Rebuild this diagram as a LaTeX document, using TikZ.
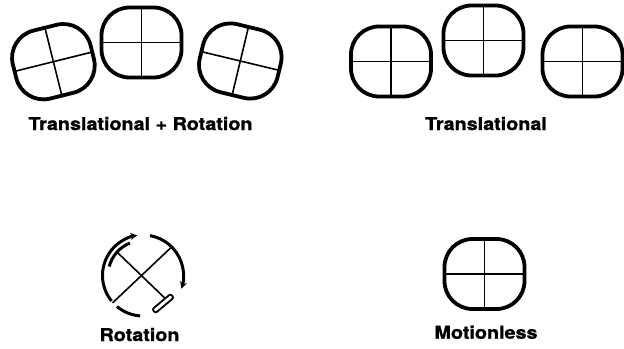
\documentclass[tikz,border=0pt]{standalone}
\usepackage{fontspec}
\newfontfamily\capfont[FakeStretch=1.12, BoldFeatures={FakeBold=1.2}]{TeX Gyre Heros}
\usetikzlibrary{arrows.meta}

\begin{document}
\begin{tikzpicture}[x=1bp, y=1bp,
    tile/.style={draw, line width=3.8bp, rounded corners=28bp, minimum width=80bp,
      minimum height=70bp, inner sep=0pt, outer sep=0pt},
    cross/.style={line width=1.6bp},
    ring/.style={line width=3bp},
    caption/.style={font=\capfont\bfseries\fontsize{17.7}{20}\selectfont, anchor=base, inner sep=0pt}]

  \useasboundingbox (0,0) rectangle (624,348);

  % Translational + rotation
  \node[tile, rotate=14] (tr1) at (53.4,286.3) {};
  \node[tile] (tr2) at (141.5,305.5) {};
  \node[tile, rotate=-13.5] (tr3) at (240.3,287) {};

  % Translational
  \node[tile] (t1) at (391,286.5) {};
  \node[tile] (t2) at (483.5,307.5) {};
  \node[tile] (t3) at (582.5,286.5) {};

  % Motionless
  \node[tile] (still) at (484.5,74) {};

  % Crosses inside the tiles
  \foreach \s in {tr1,tr2,tr3,t1,t2,t3,still} {
    \draw[cross] (\s.north) -- (\s.south);
    \draw[cross] (\s.west) -- (\s.east);
  }

  % Rotation
  \coordinate (rot) at (143,72.5);
  \draw[ring, -{Stealth[length=7bp, width=7bp]}] ([shift={(219:40.5)}]rot)
    arc[start angle=219, end angle=98, radius=40.5];
  \draw[ring] ([shift={(230:40.5)}]rot) arc[start angle=230, end angle=266, radius=40.5];
  \draw[ring, -{Stealth[length=7bp, width=7bp]}] ([shift={(80:40.5)}]rot)
    arc[start angle=80, end angle=-19, radius=40.5];
  \draw[ring] ([shift={(112:35)}]rot) arc[start angle=112, end angle=165, radius=35];
  \draw[cross] ([shift={(138:34)}]rot) -- ([shift={(314:32)}]rot);
  \draw[cross] ([shift={(222:41)}]rot) -- ([shift={(45:39)}]rot);
  \node[draw, line width=1.8bp, rounded corners=2bp, minimum width=24bp, minimum height=5bp,
    inner sep=0pt, rotate=40] (cap) at ([shift={(20,-28)}]rot) {};

  % Labels
  \node[caption] (lab1) at (140.5,218) {Translational + Rotation};
  \node[caption] (lab2) at (486,218) {Translational};
  \node[caption] (lab3) at (139.5,7) {Rotation};
  \node[caption] (lab4) at (486,9.3) {Motionless};
\end{tikzpicture}
\end{document}
